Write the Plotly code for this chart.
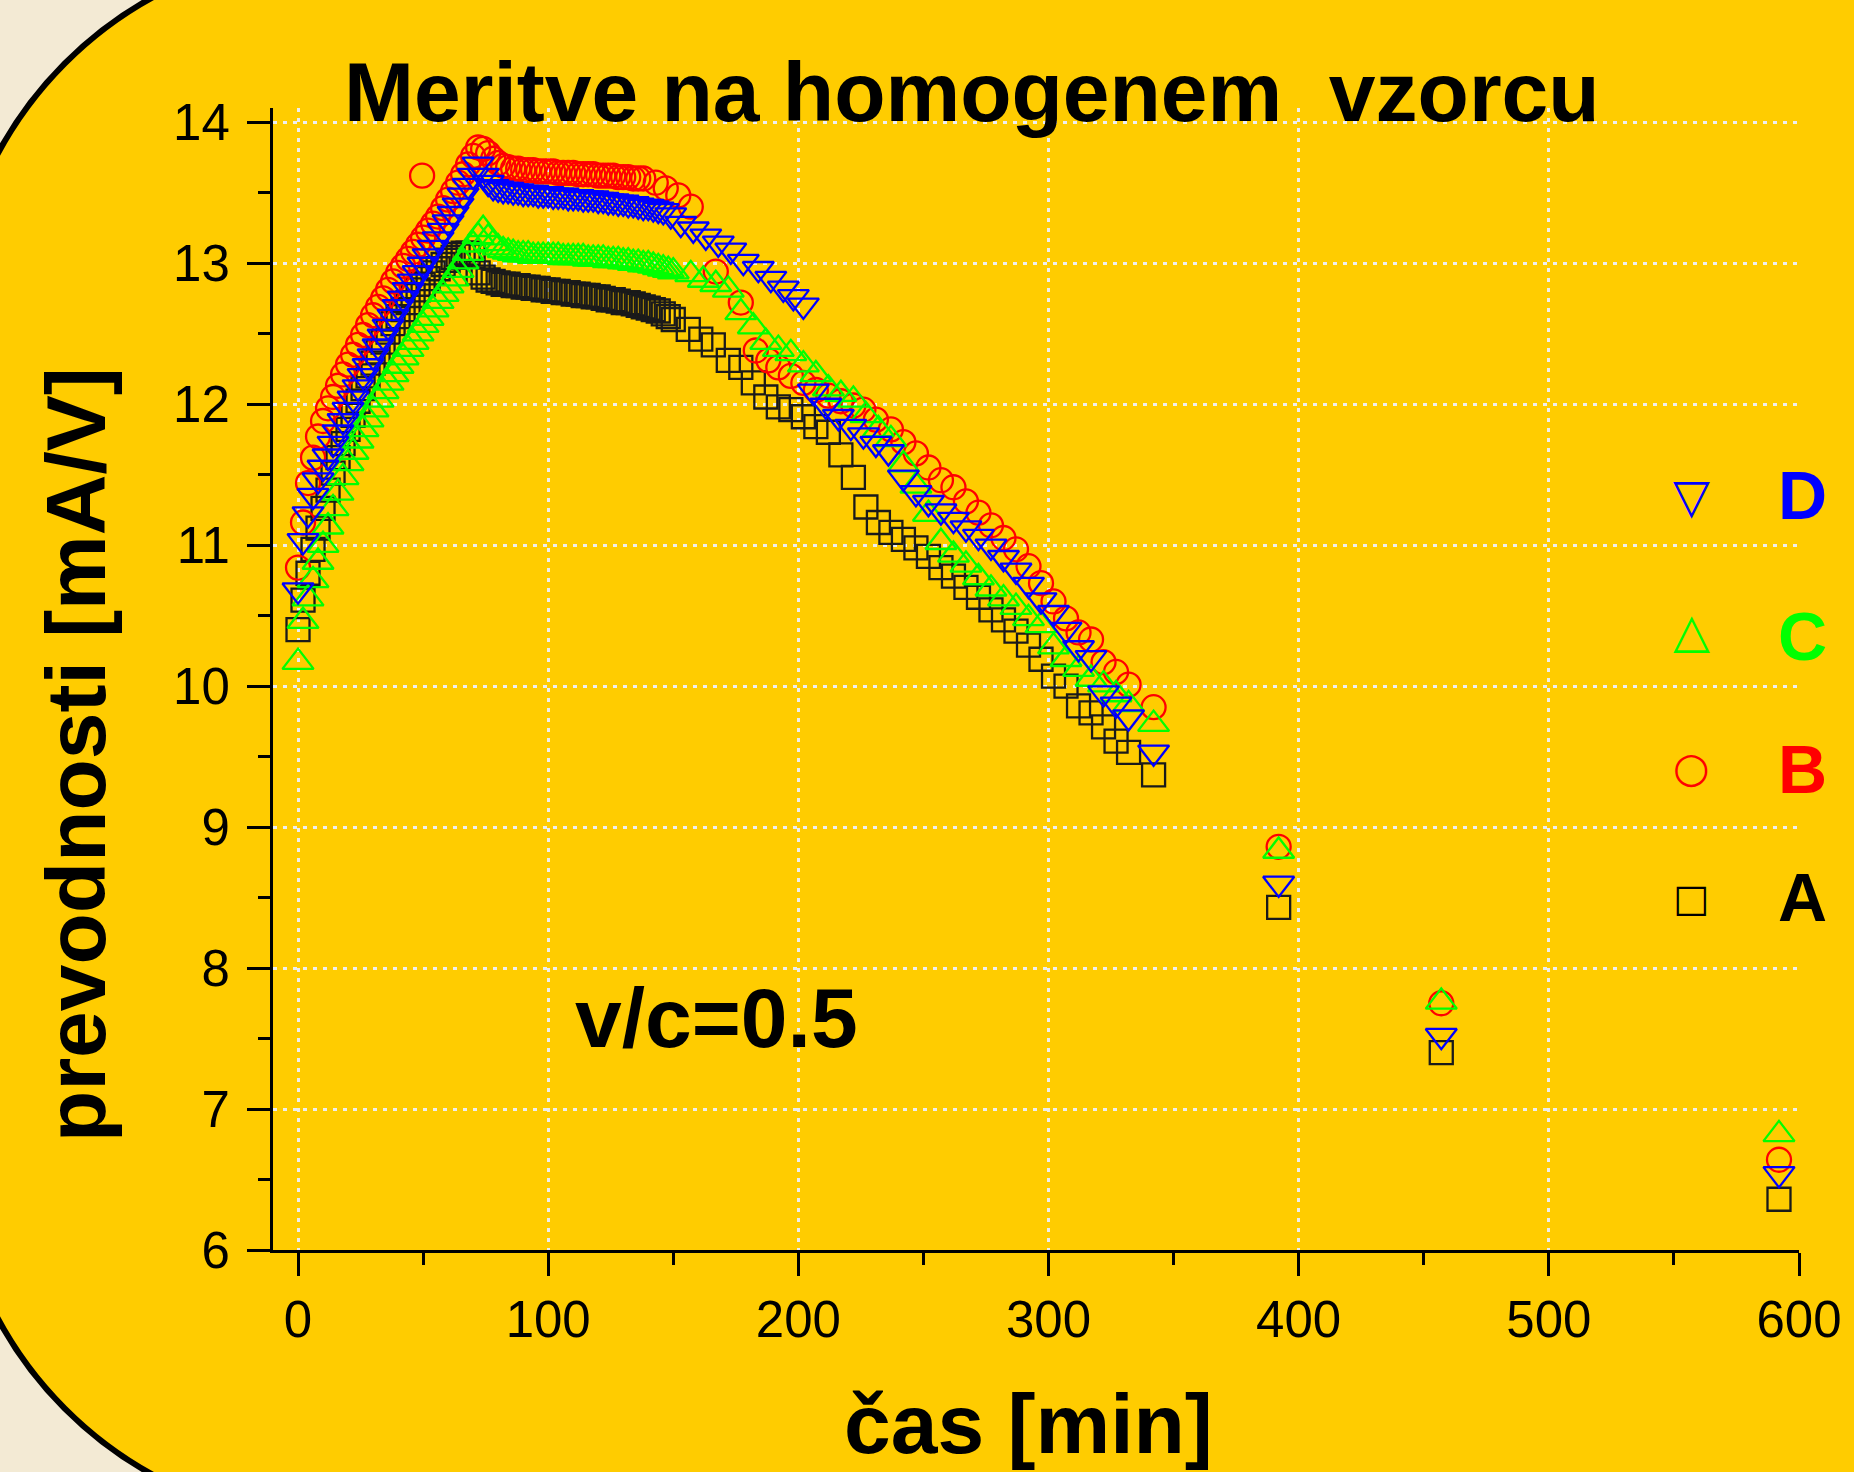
import plotly.graph_objects as go

# ---------------- data ----------------
A_t = [0, 2, 4, 6, 8, 10, 12, 14, 16, 18, 20, 22, 24, 26, 28, 30, 32, 34, 36, 38, 40, 42, 44, 46, 48, 50, 52, 54, 56, 58, 60, 62, 64, 66, 68, 70,
       72, 74, 76, 78, 80, 82, 84, 86, 88, 90, 92, 94, 96, 98, 100, 102, 104, 106, 108, 110, 112, 114, 116, 118, 120, 122, 124, 126, 128, 130, 132, 134, 136, 138, 140, 142, 144, 146, 148, 150,
       156, 161, 166, 172, 177, 182, 187, 192, 197, 202, 207, 212, 217, 222, 227, 232, 237, 242, 247, 252, 257, 262, 267, 272, 277, 282, 287, 292, 297, 302, 307, 312, 317, 322, 327, 332, 342,
       392, 457, 592]
A_v = [10.40, 10.61, 10.80, 10.97, 11.12, 11.26, 11.39, 11.51, 11.62, 11.72, 11.82, 11.92, 12.02, 12.11, 12.20, 12.29, 12.37, 12.44, 12.51, 12.57, 12.62, 12.67, 12.72, 12.77, 12.81, 12.85, 12.89, 12.93, 12.96, 12.99, 13.02, 13.04, 13.06, 13.07, 13.07, 13.05,
       12.93, 12.90, 12.88, 12.87, 12.86, 12.85, 12.85, 12.84, 12.84, 12.83, 12.83, 12.82, 12.82, 12.81, 12.81, 12.80, 12.80, 12.79, 12.79, 12.78, 12.78, 12.77, 12.77, 12.76, 12.76, 12.75, 12.74, 12.74, 12.73, 12.72, 12.72, 12.71, 12.70, 12.69, 12.68, 12.67, 12.66, 12.64, 12.62, 12.60,
       12.53, 12.46, 12.42, 12.31, 12.26, 12.15, 12.05, 11.98, 11.96, 11.91, 11.84, 11.80, 11.64, 11.48, 11.27, 11.16, 11.09, 11.04, 10.98, 10.92, 10.84, 10.78, 10.70, 10.63, 10.54, 10.47, 10.39, 10.29, 10.19, 10.07, 10.00, 9.86, 9.81, 9.71, 9.61, 9.53, 9.37,
       8.43, 7.40, 6.36]

B_t = [0, 2, 4, 6, 8, 10, 12, 14, 16, 18, 20, 22, 24, 26, 28, 30, 32, 34, 36, 38, 40, 42, 44, 46, 48, 50, 52, 54, 56, 58, 60, 62, 64, 66, 68, 70, 72,
       49.6,
       74, 76, 78, 80, 82, 84, 86, 88, 90, 92, 94, 96, 98, 100, 102, 104, 106, 108, 110, 112, 114, 116, 118, 120, 122, 124, 126, 128, 130, 132, 134, 136, 138,
       143, 147, 152, 157,
       167, 177, 183, 188, 192, 197, 202, 207, 212, 217, 222, 226, 231, 237, 242, 247, 252, 257, 262, 267, 272, 277, 282, 287, 292, 297, 302, 307, 312, 317, 322, 327, 332, 342,
       392, 457, 592]
B_v = [10.84, 11.16, 11.44, 11.62, 11.77, 11.88, 11.97, 12.05, 12.13, 12.21, 12.28, 12.35, 12.42, 12.49, 12.56, 12.63, 12.69, 12.75, 12.81, 12.87, 12.93, 12.98, 13.03, 13.08, 13.13, 13.18, 13.23, 13.28, 13.33, 13.39, 13.45, 13.51, 13.57, 13.63, 13.70, 13.76, 13.82,
       13.62,
       13.81, 13.78, 13.74, 13.71, 13.69, 13.68, 13.67, 13.67, 13.66, 13.66, 13.66, 13.65, 13.65, 13.65, 13.65, 13.64, 13.64, 13.64, 13.64, 13.63, 13.63, 13.63, 13.63, 13.62, 13.62, 13.62, 13.62, 13.61, 13.61, 13.61, 13.60, 13.60, 13.60,
       13.57, 13.53, 13.48, 13.40,
       12.94, 12.72, 12.38, 12.31, 12.26, 12.20, 12.15, 12.10, 12.06, 12.02, 11.99, 11.96, 11.89, 11.82, 11.73, 11.65, 11.55, 11.46, 11.41, 11.31, 11.23, 11.14, 11.05, 10.97, 10.85, 10.73, 10.60, 10.48, 10.38, 10.33, 10.17, 10.10, 10.01, 9.85,
       8.86, 7.75, 6.64]

C_t = [0, 2, 4, 6, 8, 10, 12, 14, 16, 18, 20, 22, 24, 26, 28, 30, 32, 34, 36, 38, 40, 42, 44, 46, 48, 50, 52, 54, 56, 58, 60, 62, 64, 66, 68, 70, 72, 74,
       76, 78, 80, 82, 84, 86, 88, 90, 92, 94, 96, 98, 100, 102, 104, 106, 108, 110, 112, 114, 116, 118, 120, 122, 124, 126, 128, 130, 132, 134, 136, 138, 140, 142, 144, 146, 148, 150,
       157, 162, 167, 172, 177, 182, 187, 192, 197, 202, 207, 212, 217, 222, 227, 232, 237, 242, 247, 252, 257, 262, 267, 272, 277, 282, 287, 292, 297, 302, 307, 312, 317, 322, 327, 332, 342,
       392, 457, 592]
C_v = [10.17, 10.46, 10.62, 10.75, 10.88, 11.00, 11.13, 11.26, 11.37, 11.48, 11.58, 11.66, 11.74, 11.82, 11.89, 11.96, 12.03, 12.09, 12.15, 12.21, 12.27, 12.33, 12.39, 12.44, 12.50, 12.56, 12.61, 12.67, 12.73, 12.78, 12.84, 12.89, 12.95, 13.01, 13.07, 13.13, 13.19, 13.24,
       13.18, 13.14, 13.11, 13.09, 13.08, 13.07, 13.06, 13.06, 13.06, 13.05, 13.05, 13.05, 13.05, 13.05, 13.05, 13.04, 13.04, 13.04, 13.04, 13.04, 13.03, 13.03, 13.03, 13.03, 13.02, 13.02, 13.02, 13.01, 13.01, 13.00, 13.00, 12.99, 12.99, 12.98, 12.97, 12.96, 12.95, 12.94,
       12.92, 12.88, 12.85, 12.81, 12.65, 12.55, 12.44, 12.39, 12.36, 12.28, 12.21, 12.11, 12.07, 12.03, 11.92, 11.82, 11.75, 11.57, 11.42, 11.22, 11.02, 10.93, 10.86, 10.77, 10.69, 10.62, 10.56, 10.48, 10.43, 10.28, 10.19, 10.12, 10.05, 10.01, 9.94, 9.87, 9.73,
       8.83, 7.76, 6.82]

D_t = [0, 2, 4, 6, 8, 10, 12, 14, 16, 18, 20, 22, 24, 26, 28, 30, 32, 34, 36, 38, 40, 42, 44, 46, 48, 50, 52, 54, 56, 58, 60, 62, 64, 66, 68, 70, 72,
       74, 76, 78, 80, 82, 84, 86, 88, 90, 92, 94, 96, 98, 100, 102, 104, 106, 108, 110, 112, 114, 116, 118, 120, 122, 124, 126, 128, 130, 132, 134, 136, 138, 140, 142, 144, 146,
       149, 153, 158, 163, 168, 173, 178, 184, 189, 194, 198, 202,
       206, 211, 216, 221, 226, 231, 236, 242, 247, 252, 257, 262, 267, 272, 277, 282, 287, 292, 297, 302, 307, 312, 317, 322, 327, 332, 342,
       392, 457, 592]
D_v = [10.68, 11.03, 11.22, 11.35, 11.46, 11.55, 11.63, 11.72, 11.80, 11.88, 11.96, 12.04, 12.12, 12.20, 12.27, 12.34, 12.41, 12.48, 12.55, 12.62, 12.69, 12.75, 12.81, 12.87, 12.93, 12.99, 13.05, 13.11, 13.17, 13.23, 13.29, 13.35, 13.41, 13.48, 13.55, 13.62, 13.70,
       13.62, 13.57, 13.54, 13.53, 13.52, 13.52, 13.51, 13.51, 13.50, 13.50, 13.50, 13.49, 13.49, 13.49, 13.48, 13.48, 13.48, 13.47, 13.47, 13.47, 13.46, 13.46, 13.46, 13.45, 13.45, 13.44, 13.44, 13.43, 13.43, 13.42, 13.42, 13.41, 13.40, 13.40, 13.39, 13.38, 13.37,
       13.34, 13.28, 13.24, 13.19, 13.14, 13.09, 13.01, 12.96, 12.89, 12.82, 12.76, 12.70,
       12.09, 11.99, 11.91, 11.84, 11.78, 11.72, 11.66, 11.48, 11.37, 11.30, 11.24, 11.18, 11.12, 11.06, 10.99, 10.91, 10.82, 10.72, 10.61, 10.52, 10.40, 10.27, 10.20, 9.95, 9.87, 9.78, 9.53,
       8.60, 7.52, 6.54]

SERIES_NAMES = ["A", "B", "C", "D"]
SERIES_COLORS = ["#1a1a1a", "#ff0000", "#00ff00", "#0000ff"]
SERIES_SYMBOLS = ["square-open", "circle-open", "triangle-up-open", "triangle-down-open"]
SERIES_SIZES = [23, 24, 27, 27]

LEGEND_ORDER = ["D", "C", "B", "A"]
LEGEND_GLYPHS = {"A": "\u25a1", "B": "\u25cb", "C": "\u25b3", "D": "\u25bd"}
LEGEND_GLYPH_SIZE = {"A": 38, "B": 42, "C": 48, "D": 48}
LEGEND_COLORS = {"A": "#000000", "B": "#ff0000", "C": "#00ff00", "D": "#0000ff"}

X_TICKS = [0, 100, 200, 300, 400, 500, 600]
Y_TICKS = [6, 7, 8, 9, 10, 11, 12, 13, 14]

TITLE = "Meritve na homogenem\u00a0 vzorcu"
X_TITLE = "čas [min]"
Y_TITLE = "prevodnosti [mA/V]"
NOTE = "v/c=0.5"

for t, v in [(A_t, A_v), (B_t, B_v), (C_t, C_v), (D_t, D_v)]:
    assert len(t) == len(v), (len(t), len(v))

# ---------------- layout geometry ----------------
W, H = 1854, 1472
ML, MR, MT, MB = 273, 48, 108, 222
PW, PH = W - ML - MR, H - MT - MB
FONT = "Liberation Sans, Arial, Helvetica, sans-serif"
CREAM = "#F3EAD4"


def px(xp):
    return (xp - ML) / PW


def py(yp):
    return (H - MB - yp) / PH


def rounded_rect(x0, y0, x1, y1, r):
    k = 0.5523 * r

    def P(x, y):
        return f"{px(x):.5f},{py(y):.5f}"

    return (f"M{P(x0 + r, y0)} L{P(x1 - r, y0)} "
            f"C{P(x1 - r + k, y0)} {P(x1, y0 + r - k)} {P(x1, y0 + r)} "
            f"L{P(x1, y1 - r)} "
            f"C{P(x1, y1 - r + k)} {P(x1 - r + k, y1)} {P(x1 - r, y1)} "
            f"L{P(x0 + r, y1)} "
            f"C{P(x0 + r - k, y1)} {P(x0, y1 - r + k)} {P(x0, y1 - r)} "
            f"L{P(x0, y0 + r)} "
            f"C{P(x0, y0 + r - k)} {P(x0 + r - k, y0)} {P(x0 + r, y0)} Z")


fig = go.Figure()
data = {"A": (A_t, A_v), "B": (B_t, B_v), "C": (C_t, C_v), "D": (D_t, D_v)}
for name, col, sym, size in zip(SERIES_NAMES, SERIES_COLORS, SERIES_SYMBOLS, SERIES_SIZES):
    t, v = data[name]
    fig.add_trace(go.Scatter(
        x=t, y=v, mode="markers", name=name, showlegend=False,
        marker=dict(symbol=sym, size=size, color=col, line=dict(color=col, width=2.3)),
    ))

axis_common = dict(
    showline=True, linecolor="black", linewidth=3, mirror=False,
    ticks="outside", ticklen=23, tickwidth=3, tickcolor="black",
    tickfont=dict(family=FONT, size=51, color="black"),
    showgrid=True, gridcolor="#EEEEEE", gridwidth=2.5, griddash="4px,6px",
    zeroline=False,
)

fig.update_xaxes(range=[-10, 600], tickvals=X_TICKS,
                 minor=dict(ticks="outside", ticklen=12, tickwidth=3, tickcolor="black", dtick=50, tick0=0, showgrid=False),
                 ticklabelstandoff=0, **axis_common)
fig.update_yaxes(range=[6, 6 + 8.1], tickvals=Y_TICKS,
                 minor=dict(ticks="outside", ticklen=12, tickwidth=3, tickcolor="black", dtick=0.5, tick0=6, showgrid=False),
                 ticklabelstandoff=7, **axis_common)

annotations = [
    dict(text=f"<b>{TITLE}</b>", x=px(975), y=py(92), xref="paper", yref="paper",
         xanchor="center", yanchor="middle", showarrow=False,
         font=dict(family=FONT, size=84, color="black")),
    dict(text=f"<b>{Y_TITLE}</b>", x=px(75), y=py(754), xref="paper", yref="paper",
         xanchor="center", yanchor="middle", showarrow=False, textangle=-90,
         font=dict(family=FONT, size=84, color="black")),
    dict(text=f"<b>{X_TITLE}</b>", x=px(1032), y=py(1424), xref="paper", yref="paper",
         xanchor="center", yanchor="middle", showarrow=False,
         font=dict(family=FONT, size=84, color="black")),
    dict(text=f"<b>{NOTE}</b>", x=px(719), y=py(1018), xref="paper", yref="paper",
         xanchor="center", yanchor="middle", showarrow=False,
         font=dict(family=FONT, size=84, color="black")),
]

legend_sym_y = {"D": 496, "C": 630, "B": 767, "A": 898}
legend_txt_y = {"D": 495, "C": 636, "B": 769, "A": 897}
for key in LEGEND_ORDER:
    annotations.append(dict(text=LEGEND_GLYPHS[key], x=px(1698), y=py(legend_sym_y[key]), xref="paper", yref="paper",
                            xanchor="center", yanchor="middle", showarrow=False,
                            font=dict(family="DejaVu Sans", size=LEGEND_GLYPH_SIZE[key], color=LEGEND_COLORS[key])))
    annotations.append(dict(text=f"<b>{key}</b>", x=px(1810), y=py(legend_txt_y[key]), xref="paper", yref="paper",
                            xanchor="center", yanchor="middle", showarrow=False,
                            font=dict(family=FONT, size=68, color=LEGEND_COLORS[key])))

fig.update_layout(
    width=W, height=H,
    margin=dict(l=ML, r=MR, t=MT, b=MB, pad=0),
    paper_bgcolor=CREAM,
    plot_bgcolor="rgba(0,0,0,0)",
    annotations=annotations,
    shapes=[dict(type="path", xref="paper", yref="paper", layer="below",
                 path=rounded_rect(-50, -50, 2600, 1522, 388),
                 fillcolor="#FFCC00", line=dict(color="black", width=6))],
    showlegend=False,
)

fig.write_html(
    "out.html",
    config={"displayModeBar": False},
    post_script=("document.body.style.margin='0px';document.body.style.padding='0px';"
                 "document.body.style.overflow='hidden';document.body.style.background='" + CREAM + "';"),
)
